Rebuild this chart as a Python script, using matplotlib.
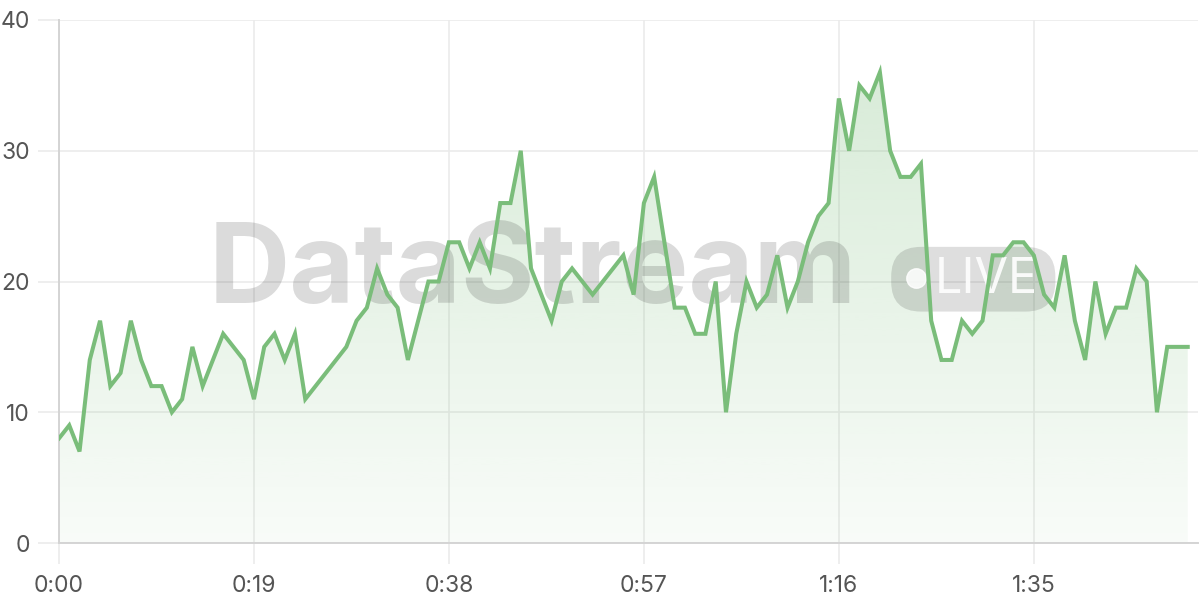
import numpy as np
import matplotlib.pyplot as plt
from matplotlib.patches import FancyBboxPatch

plt.rcParams['font.family'] = ['Inter', 'DejaVu Sans']

# one reading per second
seconds = np.arange(111)
values = [8, 9, 7, 14, 17, 12, 13, 17, 14, 12,
          12, 10, 11, 15, 12, 14, 16, 15, 14, 11,
          15, 16, 14, 16, 11, 12, 13, 14, 15, 17,
          18, 21, 19, 18, 14, 17, 20, 20, 23, 23,
          21, 23, 21, 26, 26, 30, 21, 19, 17, 20,
          21, 20, 19, 20, 21, 22, 19, 26, 28, 23,
          18, 18, 16, 16, 20, 10, 16, 20, 18, 19,
          22, 18, 20, 23, 25, 26, 34, 30, 35, 34,
          36, 30, 28, 28, 29, 17, 14, 14, 17, 16,
          17, 22, 22, 23, 23, 22, 19, 18, 22, 17,
          14, 20, 16, 18, 18, 21, 20, 10, 15, 15,
          15]
tick_pos = [0, 19, 38, 57, 76, 95]
tick_labels = ['0:00', '0:19', '0:38', '0:57', '1:16', '1:35']
y_ticks = [0, 10, 20, 30, 40]

line_col = '#7abd7a'
grid_col = '#ebebeb'
text_col = '#555555'

fig = plt.figure(figsize=(12, 6), dpi=100)
ax = fig.add_axes([59/1200, 57/600, (1198-59)/1200, (543-20)/600])
ax.set_xlim(0, 111)
ax.set_ylim(0, 40)

# gradient fill under the line
grad = np.linspace(0.32, 0.05, 256).reshape(-1, 1)
rgba = np.zeros((256, 1, 4))
rgba[..., 0] = 0x7a/255
rgba[..., 1] = 0xbd/255
rgba[..., 2] = 0x7a/255
rgba[..., 3] = grad
poly = ax.fill_between(seconds, values, 0, color='none', lw=0)
img = ax.imshow(rgba, aspect='auto', extent=[0, 111, 0, 40], origin='upper', zorder=1)
img.set_clip_path(poly.get_paths()[0], transform=ax.transData)
ax.set_xlim(0, 111)
ax.set_ylim(0, 40)

# watermark
ax.text(14.6, 20.6, 'DataStream', fontsize=81, fontweight='bold', color='black',
        alpha=0.14, ha='left', va='center', zorder=2)
pill = FancyBboxPatch((81.1, 17.7), 16.0, 4.95, boxstyle='round,pad=0,rounding_size=2.9',
                      transform=ax.transData, facecolor='black', alpha=0.13,
                      edgecolor='none', zorder=2, mutation_aspect=0.785)
ax.add_patch(pill)
ax.plot([83.5], [20.3], 'o', ms=14, color='white', alpha=0.85, zorder=2)
ax.text(85.3, 20.1, 'LIVE', fontsize=35, color='white', alpha=0.9,
        ha='left', va='center', zorder=2)

ax.plot(seconds, values, color=line_col, lw=2.9, zorder=3, solid_joinstyle='miter')

ax.set_xticks(tick_pos)
ax.set_xticklabels(tick_labels)
ax.set_yticks(y_ticks)
ax.grid(True, color=grid_col, lw=1.2, zorder=0)
ax.set_axisbelow(True)
ax.tick_params(axis='both', colors=grid_col, labelcolor=text_col, labelsize=16.5,
               length=15, width=1.2)
ax.tick_params(axis='y', pad=6)
ax.tick_params(axis='x', pad=8)
for s in ['top', 'right']:
    ax.spines[s].set_visible(False)
ax.spines['left'].set_color('#d4d4d4')
ax.spines['bottom'].set_color('#d4d4d4')
ax.spines['left'].set_linewidth(1.4)
ax.spines['bottom'].set_linewidth(1.4)

fig.savefig('out.png', dpi=100)
